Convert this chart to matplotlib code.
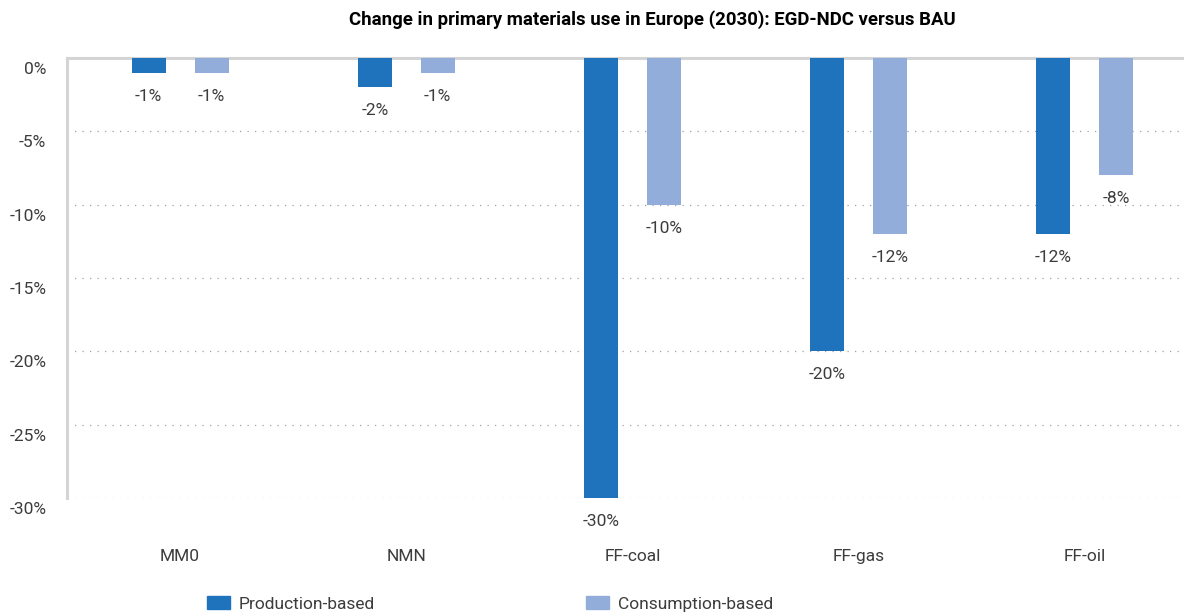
import numpy as np
import matplotlib.pyplot as plt
import matplotlib.transforms as mtransforms
from matplotlib.patches import Patch

categories = ["MM0", "NMN", "FF-coal", "FF-gas", "FF-oil"]
production = [-1, -2, -30, -20, -12]
consumption = [-1, -1, -10, -12, -8]
yticks = [0, -5, -10, -15, -20, -25, -30]

plt.rcParams['font.family'] = ['Roboto', 'DejaVu Sans']

dark_blue = "#1f73bd"
light_blue = "#93addb"
text_grey = "#3c3c3c"

fig = plt.figure(figsize=(11.84, 6.12), dpi=100)
# plot area runs a little past the right edge of the canvas
ax = fig.add_axes([67/1184, 1 - 498/612, 1131/1184, 440/612])

x = np.arange(len(categories))
w = 0.150
off = 0.139
b1 = ax.bar(x - off, production, w, color=dark_blue, zorder=3)
b2 = ax.bar(x + off, consumption, w, color=light_blue, zorder=3)

for bars, vals in ((b1, production), (b2, consumption)):
    for r, v in zip(bars, vals):
        ax.annotate("{}%".format(v), (r.get_x() + r.get_width()/2, v),
                    xytext=(0, -17), textcoords="offset points",
                    ha="center", va="center", fontsize=12.5, color=text_grey)

ax.set_xlim(-0.5, len(categories) - 0.5)
ax.set_ylim(-30, 0)
ax.set_yticks(yticks)
ax.set_yticklabels(["{}%".format(t) for t in yticks])
ax.set_xticks(x)
ax.set_xticklabels(categories)
ax.tick_params(axis="both", length=0, labelsize=12.5, labelcolor=text_grey)
ax.tick_params(axis="x", pad=37)
ax.tick_params(axis="y", pad=15)

# y labels sit a little below their grid lines
shift = mtransforms.ScaledTranslation(0, -10/100, fig.dpi_scale_trans)
for lab in ax.get_yticklabels():
    lab.set_transform(lab.get_transform() + shift)

ax.grid(axis="y", linestyle=(0, (1, 5)), color="#a0a0a0", linewidth=0.9, zorder=0)
for s in ["right", "bottom"]:
    ax.spines[s].set_visible(False)
ax.spines["top"].set_color("#d4d4d4")
ax.spines["top"].set_linewidth(2.2)
ax.spines["left"].set_color("#d4d4d4")
ax.spines["left"].set_linewidth(2.2)

fig.text(652/1184, 1 - 20/612,
         "Change in primary materials use in Europe (2030): EGD-NDC versus BAU",
         ha="center", va="center", fontsize=13.4, fontweight="bold", color="black")

fig.legend([Patch(color=dark_blue), Patch(color=light_blue)],
           ["Production-based", "Consumption-based"],
           loc="center", bbox_to_anchor=(490/1184, 1 - 604/612), ncol=2,
           frameon=False, prop={"size": 12.5}, labelcolor=text_grey,
           handlelength=1.3, handleheight=0.75, handletextpad=0.5,
           columnspacing=12.2, borderpad=0)

fig.savefig("out.png", dpi=100)
